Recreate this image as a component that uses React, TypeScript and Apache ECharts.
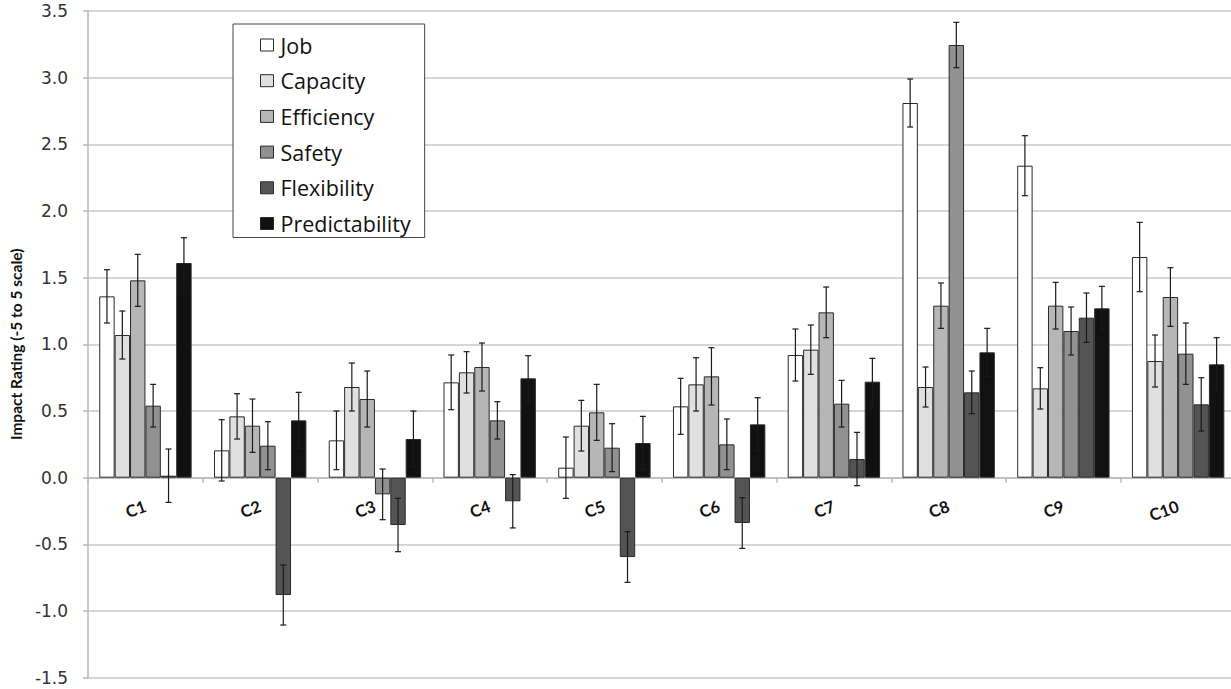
import React, { useEffect, useRef } from "react";
import * as echarts from "echarts";

const categories = ["C1", "C2", "C3", "C4", "C5", "C6", "C7", "C8", "C9", "C10"];
const seriesNames = ["Job", "Capacity", "Efficiency", "Safety", "Flexibility", "Predictability"];

const job = [1.36, 0.205, 0.28, 0.715, 0.075, 0.535, 0.92, 2.81, 2.34, 1.655];
const jobErr = [0.2, 0.23, 0.22, 0.205, 0.23, 0.21, 0.195, 0.18, 0.225, 0.26];
const capacity = [1.07, 0.46, 0.68, 0.79, 0.39, 0.7, 0.96, 0.68, 0.67, 0.875];
const capacityErr = [0.18, 0.17, 0.18, 0.155, 0.19, 0.2, 0.185, 0.15, 0.155, 0.195];
const efficiency = [1.48, 0.39, 0.59, 0.83, 0.49, 0.76, 1.24, 1.29, 1.29, 1.355];
const efficiencyErr = [0.195, 0.2, 0.21, 0.18, 0.21, 0.215, 0.19, 0.17, 0.175, 0.22];
const safety = [0.54, 0.24, -0.125, 0.43, 0.225, 0.25, 0.555, 3.245, 1.1, 0.93];
const safetyErr = [0.16, 0.18, 0.19, 0.14, 0.18, 0.19, 0.175, 0.17, 0.18, 0.23];
const flexibility = [0.015, -0.88, -0.355, -0.177, -0.595, -0.34, 0.14, 0.64, 1.2, 0.55];
const flexibilityErr = [0.2, 0.225, 0.2, 0.2, 0.19, 0.19, 0.2, 0.16, 0.185, 0.2];
const predictability = [1.61, 0.43, 0.29, 0.745, 0.26, 0.4, 0.72, 0.94, 1.27, 0.85];
const predictabilityErr = [0.19, 0.21, 0.21, 0.17, 0.2, 0.2, 0.175, 0.18, 0.165, 0.2];

const yMin = -1.5;
const yMax = 3.5;
const yStep = 0.5;

const values = [job, capacity, efficiency, safety, flexibility, predictability];
const errors = [jobErr, capacityErr, efficiencyErr, safetyErr, flexibilityErr, predictabilityErr];
const fills = ["#ffffff", "#e0e0e0", "#b6b6b6", "#919191", "#545454", "#111111"];

const CAT_GAP = 0.195;
const GRID_TOP = 11;
const GRID_BOTTOM = 11.3;
const HEIGHT = 689;

export default function App() {
  const ref = useRef<HTMLDivElement>(null);
  useEffect(() => {
    if (!ref.current) return;
    const chart = echarts.init(ref.current, null, { renderer: "svg" });
    const n = seriesNames.length;
    const plotH = HEIGHT - GRID_TOP - GRID_BOTTOM;
    // distance of the zero line above the grid bottom (so the category axis sits on y = 0)
    const zeroOffset = (plotH * (0 - yMin)) / (yMax - yMin);

    const barSeries = seriesNames.map((name, k) => ({
      name,
      type: "bar",
      data: values[k],
      barGap: "0%",
      barCategoryGap: CAT_GAP * 100 + "%",
      itemStyle: { color: fills[k], borderColor: "#2a2a2a", borderWidth: 1 },
      z: 2,
    }));
    const errSeries = seriesNames.map((name, k) => ({
      name: name + " error",
      type: "custom",
      z: 5,
      data: values[k].map((v, i) => [i, v, errors[k][i]]),
      encode: { x: 0, y: 1 },
      renderItem: (params: any, api: any) => {
        const idx = api.value(0);
        const val = api.value(1);
        const err = api.value(2);
        const catW = api.size([1, 0])[0];
        const groupW = catW * (1 - CAT_GAP);
        const barW = groupW / n;
        const cx = api.coord([idx, 0])[0] - groupW / 2 + barW * (k + 0.5);
        const yTop = api.coord([idx, val + err])[1];
        const yBot = api.coord([idx, val - err])[1];
        const cap = 3;
        const style = { stroke: "#1a1a1a", lineWidth: 1.2 };
        return {
          type: "group",
          children: [
            { type: "line", shape: { x1: cx, y1: yTop, x2: cx, y2: yBot }, style },
            { type: "line", shape: { x1: cx - cap, y1: yTop, x2: cx + cap, y2: yTop }, style },
            { type: "line", shape: { x1: cx - cap, y1: yBot, x2: cx + cap, y2: yBot }, style },
          ],
        };
      },
    }));

    chart.setOption({
      animation: false,
      backgroundColor: "#ffffff",
      grid: { left: 83, right: 4.5, top: GRID_TOP, bottom: GRID_BOTTOM, containLabel: false },
      legend: {
        data: seriesNames,
        orient: "vertical",
        left: 233,
        top: 24,
        padding: [10, 14, 3, 27],
        itemGap: 13.7,
        itemWidth: 13,
        itemHeight: 12,
        backgroundColor: "#ffffff",
        borderColor: "#444444",
        borderWidth: 1,
        borderRadius: 0,
        icon: "rect",
        itemStyle: { borderColor: "#2a2a2a", borderWidth: 1 },
        textStyle: { fontFamily: "Open Sans", fontSize: 21.5, color: "#111", lineHeight: 21, padding: [0, 0, 0, 2] },
        z: 10,
      },
      xAxis: {
        type: "category",
        data: categories,
        offset: -zeroOffset,
        axisLine: { onZero: false, lineStyle: { color: "#b8b8b8", width: 1.5 } },
        axisTick: { show: true, length: 5, inside: false, lineStyle: { color: "#b8b8b8", width: 1.5 } },
        axisLabel: {
          rotate: 20,
          margin: 28,
          fontFamily: "Lato",
          fontWeight: "bold",
          fontSize: 16.5,
          color: "#111",
        },
        splitLine: { show: false },
      },
      yAxis: {
        type: "value",
        min: yMin,
        max: yMax,
        interval: yStep,
        name: "Impact Rating (-5 to 5 scale)",
        nameLocation: "middle",
        nameGap: 42,
        nameRotate: 90,
        nameTextStyle: { fontFamily: "Lato", fontWeight: "bold", fontSize: 15.5, color: "#111" },
        axisLine: { show: true, lineStyle: { color: "#b8b8b8", width: 1.5 } },
        axisTick: { show: true, length: 5, lineStyle: { color: "#b8b8b8", width: 1.5 } },
        axisLabel: {
          margin: 20,
          fontFamily: "DejaVu Sans",
          fontSize: 17,
          color: "#333",
          formatter: (v: number) => v.toFixed(1),
        },
        splitLine: { show: true, lineStyle: { color: "#c8c8c8", width: 1.5 } },
      },
      series: [...barSeries, ...errSeries],
    });
    return () => chart.dispose();
  }, []);
  return (
    <div
      ref={ref}
      style={{ position: "fixed", left: 0, top: 0, width: 1240, height: HEIGHT, background: "#fff" }}
    />
  );
}
